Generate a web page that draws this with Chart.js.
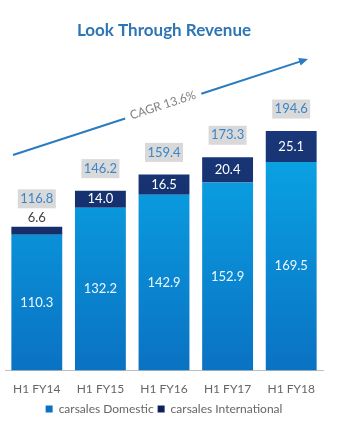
<!DOCTYPE html>
<html>
<head>
<meta charset="utf-8">
<script src="https://cdn.jsdelivr.net/npm/chart.js@4"></script>
<style>
  html, body { margin: 0; padding: 0; background: #fff; }
  #wrap { width: 351px; height: 425px; }
</style>
</head>
<body>
<div id="wrap"><canvas id="rev" width="351" height="425"></canvas></div>
<script>
var periods = ["H1 FY14", "H1 FY15", "H1 FY16", "H1 FY17", "H1 FY18"];
var domestic = [110.3, 132.2, 142.9, 152.9, 169.5];
var international = [6.6, 14.0, 16.5, 20.4, 25.1];
var totals = [116.8, 146.2, 159.4, 173.3, 194.6];
var cagrText = "CAGR 13.6%";

var FONT = "Lato, 'Open Sans', sans-serif";

function grad(ctx, top, bottom) {
    var c = ctx.chart;
    if (!c.chartArea) return top;
    var g = c.ctx.createLinearGradient(0, c.chartArea.top, 0, c.chartArea.bottom);
    g.addColorStop(0, top);
    g.addColorStop(1, bottom);
    return g;
}

var labelsPlugin = {
    id: "labels",
    afterDatasetsDraw: function (chart) {
        var ctx = chart.ctx;
        var y = chart.scales.y;
        var metaD = chart.getDatasetMeta(0);
        ctx.save();
        ctx.textAlign = "center";
        ctx.textBaseline = "middle";
        for (var i = 0; i < periods.length; i++) {
            var x = metaD.data[i].x;
            // domestic value, middle of segment
            var yd = (y.getPixelForValue(0) + y.getPixelForValue(domestic[i])) / 2;
            ctx.font = "13px " + FONT;
            ctx.fillStyle = "#eef8fe";
            ctx.fillText(domestic[i].toFixed(1), x, yd);
            // international value
            var yTop = y.getPixelForValue(totals[i]);
            var segH = y.getPixelForValue(domestic[i]) - yTop;
            var boxY;
            if (segH < 16) {
                ctx.fillStyle = "#404040";
                ctx.fillText(international[i].toFixed(1), x, yTop - 9);
                boxY = yTop - 28;
            } else {
                ctx.fillStyle = "#ffffff";
                ctx.fillText(international[i].toFixed(1), x, yTop + segH / 2);
                boxY = yTop - 22;
            }
            // total in grey box
            ctx.fillStyle = "#d9d9d9";
            ctx.fillRect(x - 19, boxY - 9.5, 38, 19);
            ctx.fillStyle = "#3c86c8";
            ctx.fillText(totals[i].toFixed(1), x, boxY);
        }
        ctx.restore();
    },
    afterDraw: function (chart) {
        var ctx = chart.ctx;
        var x0 = 13, y0 = 155, x1 = 308, y1 = 59;
        var ang = Math.atan2(y1 - y0, x1 - x0);
        var len = Math.hypot(x1 - x0, y1 - y0);
        ctx.save();
        ctx.translate(x0, y0);
        ctx.rotate(ang);
        ctx.strokeStyle = "#2a7bc0";
        ctx.fillStyle = "#2a7bc0";
        ctx.lineWidth = 2;
        var gapA = 118, gapB = 198;
        ctx.beginPath();
        ctx.moveTo(0, 0);
        ctx.lineTo(gapA, 0);
        ctx.moveTo(gapB, 0);
        ctx.lineTo(len - 6, 0);
        ctx.stroke();
        ctx.beginPath();
        ctx.moveTo(len, 0);
        ctx.lineTo(len - 9, -4);
        ctx.lineTo(len - 9, 4);
        ctx.closePath();
        ctx.fill();
        ctx.font = "12px " + FONT;
        ctx.fillStyle = "#808080";
        ctx.textAlign = "center";
        ctx.textBaseline = "middle";
        ctx.fillText(cagrText, (gapA + gapB) / 2, -1);
        ctx.restore();
    }
};

new Chart(document.getElementById("rev"), {
    type: "bar",
    data: {
        labels: periods,
        datasets: [{
            label: "carsales Domestic",
            data: domestic,
            backgroundColor: function (c) { return grad(c, "#0ab4f0", "#0a72c2"); },
            borderWidth: 0,
            barPercentage: 0.8,
            categoryPercentage: 1.0
        }, {
            label: "carsales International",
            data: international,
            backgroundColor: function (c) { return grad(c, "#1c3c80", "#0d2258"); },
            borderWidth: 0,
            barPercentage: 0.8,
            categoryPercentage: 1.0
        }]
    },
    options: {
        responsive: false,
        animation: false,
        layout: { padding: { left: 5, right: 28, top: 0, bottom: 0 } },
        scales: {
            x: {
                stacked: true,
                grid: { display: false },
                border: { display: true, color: "#bfbfbf", width: 1 },
                ticks: { color: "#666666", font: { family: FONT, size: 12 }, padding: 3 }
            },
            y: {
                stacked: true,
                display: false,
                min: 0,
                max: 239
            }
        },
        plugins: {
            title: {
                display: true,
                text: "Look Through Revenue",
                color: "#2e75b6",
                font: { family: FONT, size: 17, weight: "bold" },
                padding: { top: 20, bottom: 36 }
            },
            legend: {
                position: "bottom",
                labels: {
                    color: "#666666",
                    font: { family: FONT, size: 12 },
                    boxWidth: 7,
                    boxHeight: 7,
                    padding: 4
                }
            },
            tooltip: { enabled: false }
        }
    },
    plugins: [labelsPlugin]
});
</script>
</body>
</html>
